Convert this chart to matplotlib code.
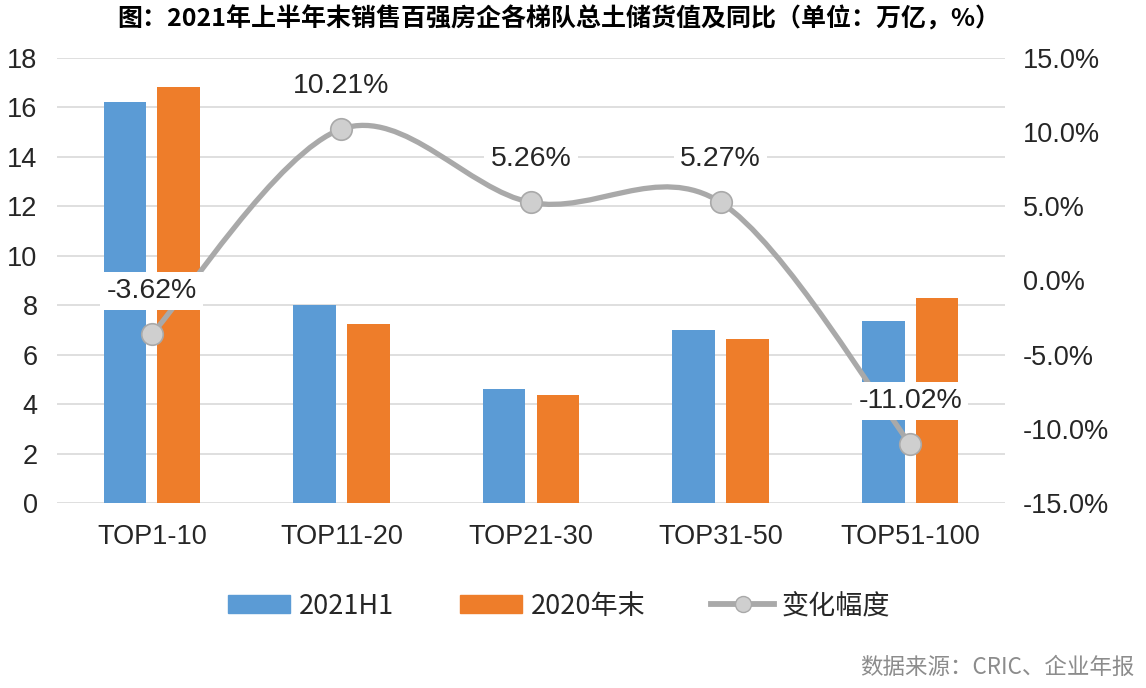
import numpy as np
import matplotlib
matplotlib.use('Agg')
import matplotlib.pyplot as plt
from matplotlib.path import Path
from matplotlib.patches import PathPatch, Patch
from matplotlib.lines import Line2D

plt.rcParams['font.family'] = ['Liberation Sans', 'Noto Sans CJK SC', 'DejaVu Sans']

# data
categories = ['TOP1-10', 'TOP11-20', 'TOP21-30', 'TOP31-50', 'TOP51-100']
h1_2021 = [16.2, 8.0, 4.6, 7.0, 7.35]
end_2020 = [16.83, 7.25, 4.37, 6.63, 8.28]
change_pct = [-3.62, 10.21, 5.26, 5.27, -11.02]

blue = '#5b9bd5'
orange = '#ee7d2a'
gray_line = '#a9a9a9'

fig = plt.figure(figsize=(11.46, 6.88), dpi=100)
ax = fig.add_axes([0.0497, 0.2689, 0.8273, 0.6468])
ax2 = ax.twinx()

x = np.arange(len(categories))
w = 0.225
ax.bar(x - 0.142, h1_2021, w, color=blue, zorder=2)
ax.bar(x + 0.142, end_2020, w, color=orange, zorder=2)

ax.set_xlim(-0.5, len(categories) - 0.5)
ax.set_ylim(0, 18)
ax.set_yticks(range(0, 19, 2))
ax.grid(axis='y', color='#d9d9d9', linewidth=1.2, zorder=0)
ax.set_axisbelow(True)
for s in ax.spines.values():
    s.set_visible(False)
for s in ax2.spines.values():
    s.set_visible(False)
ax.set_xticks(x)
ax.set_xticklabels(categories)
ax.tick_params(axis='x', length=0, pad=15, labelsize=19.5, colors='#262626')
ax.tick_params(axis='y', length=0, pad=14, labelsize=19.5, colors='#262626')

ax2.set_ylim(-15, 15)
ax2.set_yticks(np.arange(-15, 16, 5))
ax2.set_yticklabels(['%.1f%%' % v for v in np.arange(-15, 16, 5)])
ax2.tick_params(axis='y', length=0, pad=13, labelsize=19.5, colors='#262626')

# smoothed line (catmull-rom style bezier through the points)
pts = list(zip(x.astype(float), change_pct))
verts = [pts[0]]
codes = [Path.MOVETO]
for i in range(len(pts) - 1):
    p0 = pts[i - 1] if i > 0 else pts[i]
    p1 = pts[i]
    p2 = pts[i + 1]
    p3 = pts[i + 2] if i + 2 < len(pts) else pts[i + 1]
    c1 = (p1[0] + (p2[0] - p0[0]) / 6, p1[1] + (p2[1] - p0[1]) / 6)
    c2 = (p2[0] - (p3[0] - p1[0]) / 6, p2[1] - (p3[1] - p1[1]) / 6)
    verts += [c1, c2, p2]
    codes += [Path.CURVE4] * 3
ax2.add_patch(PathPatch(Path(verts, codes), facecolor='none', edgecolor=gray_line,
                        linewidth=3.8, capstyle='round', zorder=3))
ax2.plot(x, change_pct, linestyle='none', marker='o', markersize=15.5,
         markerfacecolor='#cfcfcf', markeredgecolor='#a9a9a9', markeredgewidth=1.2, zorder=4)

for xi, v in zip(x, change_pct):
    ax2.annotate('%.2f%%' % v, (xi, v), xytext=(0, 31), textcoords='offset points',
                 ha='center', va='center', fontsize=20.5, color='#262626', zorder=5,
                 bbox=dict(boxstyle='square,pad=0.22', facecolor='white', edgecolor='none'))

handles = [Patch(color=blue), Patch(color=orange),
           Line2D([], [], color=gray_line, linewidth=4.2, marker='o', markersize=11.5,
                  markerfacecolor='#cfcfcf', markeredgecolor='#a9a9a9')]
fig.legend(handles, ['2021H1', '2020年末', '变化幅度'], loc='center', bbox_to_anchor=(0.488, 0.119),
           ncol=3, frameon=False, handlelength=2.3, handleheight=0.67,
           columnspacing=2.45, handletextpad=0.3, labelcolor='#262626',
           prop=dict(family=['Liberation Sans Narrow', 'Noto Sans CJK SC', 'DejaVu Sans'], size=19.5))

fig.text(0.488, 0.972, '图：2021年上半年末销售百强房企各梯队总土储货值及同比（单位：万亿，%）',
         ha='center', va='center', fontsize=18, fontweight='bold',
         family=['Noto Sans CJK SC', 'DejaVu Sans'])
fig.text(0.99, 0.03, '数据来源：CRIC、企业年报', ha='right', va='center', fontsize=16.2,
         color='#8c8c8c', family=['Noto Sans CJK SC', 'DejaVu Sans'])

fig.savefig('out.png', dpi=100)
